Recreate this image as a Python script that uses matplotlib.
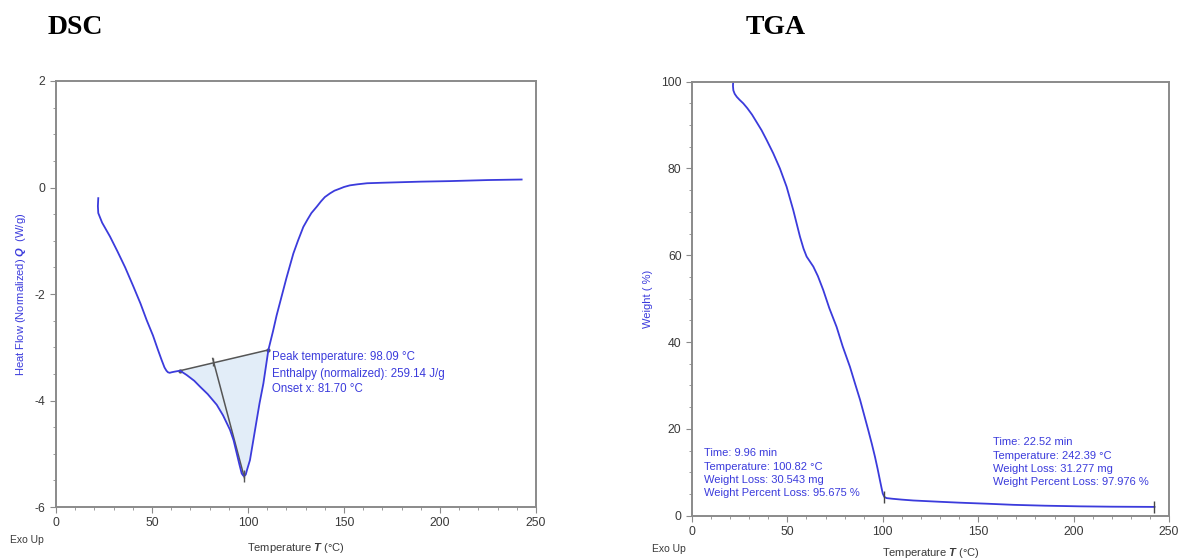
import matplotlib.pyplot as plt
import numpy as np

plt.rcParams['font.family'] = ['Liberation Sans', 'DejaVu Sans']
plt.rcParams['mathtext.fontset'] = 'custom'
plt.rcParams['mathtext.it'] = 'Liberation Sans:italic:bold'
plt.rcParams['mathtext.rm'] = 'Liberation Sans'
plt.rcParams['axes.unicode_minus'] = False

# DSC curve (temperature degC, heat flow W/g)
dsc_temp = [22.0, 21.8, 22.0, 24.0, 28.1, 32.0, 36.0, 40.3, 44.0, 47.2, 50.5, 53.0, 55.0,
            56.5, 57.5, 58.3, 59.2, 60.2, 61.5, 63.0, 64.6, 68.0, 72.0, 75.0, 79.0, 83.7,
            87.0, 90.6, 92.5, 94.1, 95.5, 96.7, 97.5, 98.1, 98.8, 99.5, 101.0, 102.5, 104.5,
            106.0, 108.0, 110.6, 113.0, 114.9, 118.4, 120.0, 123.6, 126.0, 128.8, 131.0,
            133.0, 135.8, 138.0, 140.0, 142.7, 145.0, 147.9, 150.0, 153.0, 157.0, 162.0,
            170.5, 190.0, 205.0, 225.0, 242.5]
dsc_heat = [-0.20, -0.35, -0.48, -0.66, -0.92, -1.20, -1.50, -1.86, -2.18, -2.49, -2.78,
            -3.04, -3.24, -3.38, -3.44, -3.47, -3.48, -3.47, -3.46, -3.45, -3.44, -3.52,
            -3.63, -3.74, -3.88, -4.08, -4.28, -4.55, -4.75, -4.99, -5.20, -5.37, -5.41,
            -5.42, -5.39, -5.30, -5.12, -4.80, -4.37, -4.05, -3.68, -3.05, -2.70, -2.40,
            -1.92, -1.70, -1.24, -1.00, -0.74, -0.60, -0.48, -0.36, -0.26, -0.18, -0.11,
            -0.06, -0.02, 0.01, 0.04, 0.06, 0.08, 0.09, 0.11, 0.12, 0.14, 0.15]

base_temp = [64.6, 110.6]
base_heat = [-3.44, -3.05]
onset_line_temp = [81.6, 98.1]
onset_line_heat = [-3.21, -5.45]
peak_temp = 98.09
dsc_notes = ['Peak temperature: 98.09 °C', 'Enthalpy (normalized): 259.14 J/g', 'Onset x: 81.70 °C']

# TGA curve (temperature degC, weight %)
tga_temp = [21.6, 21.5, 21.7, 22.4, 23.5, 25.0, 26.9, 29.0, 31.5, 34.0, 36.5, 39.1, 42.6,
            46.1, 49.6, 53.1, 56.6, 58.5, 60.1, 63.6, 66.0, 68.8, 72.0, 75.8, 79.0, 82.8,
            85.5, 88.1, 90.5, 92.4, 94.3, 95.9, 97.3, 98.5, 99.4, 100.0, 100.82, 102.0,
            105.0, 110.0, 116.0, 130.0, 140.0, 155.0, 168.4, 185.0, 203.4, 220.0, 242.39]
tga_weight = [100.0, 99.0, 98.0, 97.2, 96.5, 95.8, 95.0, 93.9, 92.4, 90.6, 88.8, 86.6, 83.5,
              80.0, 75.8, 70.4, 64.3, 61.5, 59.7, 57.4, 55.2, 52.0, 47.8, 43.5, 39.0, 34.3,
              30.4, 26.7, 22.8, 19.7, 16.5, 13.6, 10.8, 8.2, 6.3, 5.1, 4.32, 4.05, 3.9, 3.7,
              3.5, 3.2, 3.0, 2.75, 2.5, 2.3, 2.15, 2.07, 2.02]
tga_marks_temp = [100.82, 242.39]
tga_marks_weight = [4.32, 2.02]
tga_note_left = 'Time: 9.96 min\nTemperature: 100.82 °C\nWeight Loss: 30.543 mg\nWeight Percent Loss: 95.675 %'
tga_note_right = 'Time: 22.52 min\nTemperature: 242.39 °C\nWeight Loss: 31.277 mg\nWeight Percent Loss: 97.976 %'

blue = '#3b3bdc'
frame = '#8a8a8a'
tick_col = '#3a3a3a'

fig = plt.figure(figsize=(11.82, 5.59), dpi=100)
ax1 = fig.add_axes([0.0474, 0.0930, 0.4061, 0.7621])
ax2 = fig.add_axes([0.5854, 0.0775, 0.4036, 0.7764])


def style(ax):
    for s in ax.spines.values():
        s.set_color(frame)
        s.set_linewidth(1.4)
    ax.tick_params(which='both', direction='out', colors=frame, labelcolor=tick_col,
                   labelsize=8.8, top=False, right=False)
    ax.tick_params(which='major', length=4)
    ax.tick_params(which='minor', length=2.5)


# DSC
poly_t = [t for t in dsc_temp if base_temp[0] <= t <= base_temp[1]]
poly_h = [h for t, h in zip(dsc_temp, dsc_heat) if base_temp[0] <= t <= base_temp[1]]
ax1.fill(poly_t, poly_h, color='#e2edf8', lw=0, zorder=1)
ax1.plot(base_temp, base_heat, color='#555555', lw=1.1, marker='o', ms=2, zorder=2)
ax1.plot(onset_line_temp, onset_line_heat, color='#555555', lw=1.1, zorder=2)
ax1.plot(dsc_temp, dsc_heat, color=blue, lw=1.3, zorder=3)
ax1.plot([peak_temp], [-5.42], marker='|', color='#555555', ms=8, zorder=4)
ax1.plot([onset_line_temp[0]], [-3.27], marker='|', color='#555555', ms=6, zorder=4)
for note, y in zip(dsc_notes, [-3.18, -3.50, -3.78]):
    ax1.text(112.5, y, note, color=blue, fontsize=8.3, va='center', ha='left')
ax1.set_xlim(0, 250)
ax1.set_ylim(-6, 2)
ax1.set_xticks(np.arange(0, 251, 50))
ax1.set_xticks(np.arange(0, 251, 10), minor=True)
ax1.set_yticks(np.arange(-6, 2.1, 2))
ax1.set_yticks(np.arange(-6, 2.1, 0.5), minor=True)
style(ax1)
ax1.set_ylabel('Heat Flow (Normalized) $\\it{Q}$  (W/g)', color=blue, fontsize=8, labelpad=5)
ax1.set_xlabel('Temperature $\\it{T}$ (°C)', color=tick_col, fontsize=8, labelpad=8)

# TGA
ax2.plot(tga_temp, tga_weight, color=blue, lw=1.3)
ax2.plot(tga_marks_temp, tga_marks_weight, ls='none', marker='|', color='#444444', ms=8)
ax2.text(6.3, 9.8, tga_note_left, color=blue, fontsize=8, va='center', ha='left',
         linespacing=1.4)
ax2.text(157.8, 12.3, tga_note_right, color=blue, fontsize=8, va='center', ha='left',
         linespacing=1.4)
ax2.set_xlim(0, 250)
ax2.set_ylim(0, 100)
ax2.set_xticks(np.arange(0, 251, 50))
ax2.set_xticks(np.arange(0, 251, 10), minor=True)
ax2.set_yticks(np.arange(0, 101, 20))
ax2.set_yticks(np.arange(0, 101, 5), minor=True)
style(ax2)
ax2.set_ylabel('Weight ( %)', color=blue, fontsize=8, labelpad=6)
ax2.set_xlabel('Temperature $\\it{T}$ (°C)', color=tick_col, fontsize=8, labelpad=6)

fig.text(10 / 1182, 1 - 540 / 559, 'Exo Up', color=tick_col, fontsize=7.5, va='center')
fig.text(652 / 1182, 1 - 549 / 559, 'Exo Up', color=tick_col, fontsize=7.5, va='center')
fig.text(48 / 1182, 1 - 27 / 559, 'DSC', family='Liberation Serif', weight='bold',
         fontsize=20, va='center')
fig.text(746 / 1182, 1 - 27 / 559, 'TGA', family='Liberation Serif', weight='bold',
         fontsize=20, va='center')

fig.savefig('out.png', dpi=100, facecolor='white')
